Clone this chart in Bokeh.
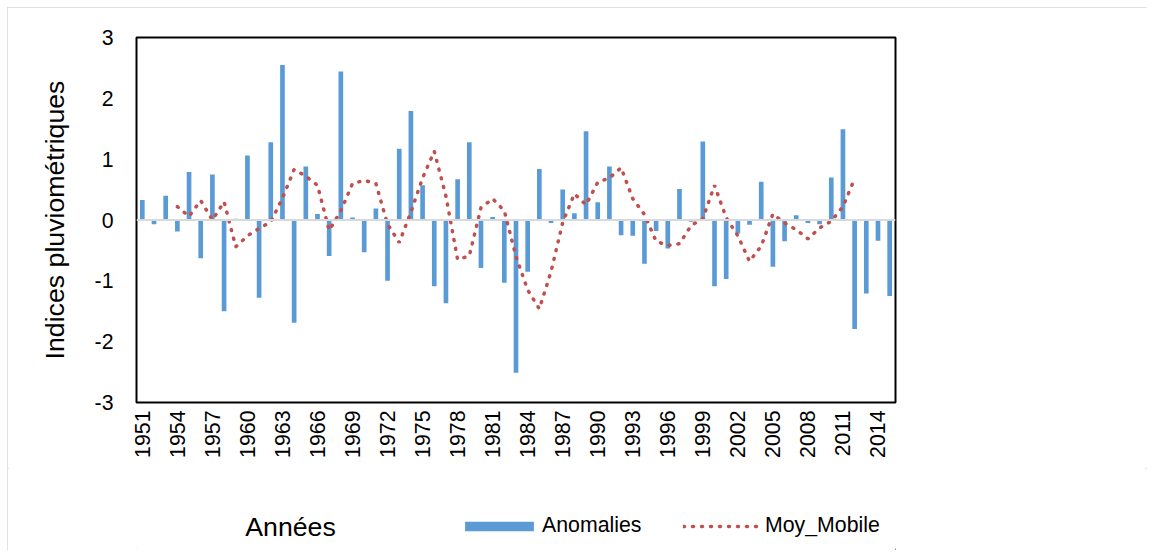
from bokeh.plotting import figure
from bokeh.layouts import column
from bokeh.models import (Range1d, FixedTicker, PrintfTickFormatter, Span,
                          Legend, LegendItem, Label)
from bokeh.embed import file_html
from bokeh.resources import INLINE

# ---- data -------------------------------------------------------------
years = list(range(1951, 2016))
anomalies = [0.33, -0.07, 0.40, -0.19, 0.79, -0.63, 0.75, -1.50, 0.02, 1.06,
             -1.28, 1.28, 2.55, -1.69, 0.88, 0.10, -0.59, 2.44, 0.04, -0.53,
             0.19, -1.00, 1.17, 1.79, 0.57, -1.09, -1.37, 0.67, 1.28, -0.79,
             0.05, -1.03, -2.51, -0.85, 0.84, -0.05, 0.50, 0.11, 1.46, 0.29,
             0.88, -0.25, -0.26, -0.72, -0.18, -0.47, 0.51, -0.03, 1.29, -1.09,
             -0.97, -0.22, -0.08, 0.63, -0.77, -0.35, 0.08, -0.05, -0.07, 0.70,
             1.49, -1.79, -1.21, -0.34, -1.25]
ma_years = list(range(1954, 2013))
moy_mobile = [0.22, 0.06, 0.32, 0.00, 0.30, -0.44, -0.26, -0.14, -0.03, 0.36,
              0.83, 0.72, 0.57, -0.17, 0.15, 0.60, 0.65, 0.60, -0.07, -0.37,
              0.13, 0.69, 1.13, 0.39, -0.65, -0.59, 0.20, 0.35, 0.15, -0.60,
              -1.15, -1.46, -0.85, -0.04, 0.43, 0.25, 0.62, 0.69, 0.86, 0.35,
              0.09, -0.35, -0.42, -0.39, -0.09, 0.02, 0.57, 0.04, -0.26, -0.68,
              -0.43, 0.10, -0.05, -0.16, -0.31, -0.13, -0.02, 0.22, 0.68]
y_ticks = [-3, -2, -1, 0, 1, 2, 3]
x_ticks = list(range(1951, 2015, 3))
series_names = ["Anomalies", "Moy_Mobile"]
x_title = "Années"
y_title = "Indices pluviométriques"

FONT = "Liberation Sans"
BLUE = "#5B9BD5"
RED = "#C0504D"
W = 1140
H_MAIN = 461
H_LEG = 82
FRAME_W = 759


def style_bars(fig, xs, tops):
    return fig.vbar(x=xs, top=tops, bottom=0, width=0.4,
                    fill_color=BLUE, line_color=None)


def style_line(fig, xs, ys):
    return fig.line(xs, ys, line_color=RED, line_width=3.5,
                    line_dash="1 8", line_cap="round")


# ---- main chart -------------------------------------------------------
p = figure(width=W, height=H_MAIN, output_backend="svg", toolbar_location=None,
           x_range=Range1d(1950.5, 2015.5), y_range=Range1d(-3, 3),
           min_border_left=129, min_border_right=W - 129 - FRAME_W,
           min_border_top=30, min_border_bottom=H_MAIN - 30 - 365)

style_bars(p, years, anomalies)
p.add_layout(Span(location=0, dimension="width", line_color="#d9d9d9", line_width=2))
style_line(p, ma_years, moy_mobile)

p.outline_line_color = "black"
p.outline_line_width = 2
p.outline_line_alpha = 1
p.xgrid.visible = False
p.ygrid.visible = False
p.background_fill_color = "white"
p.border_fill_color = "white"

ya = p.yaxis[0]
ya.ticker = FixedTicker(ticks=y_ticks)
ya.formatter = PrintfTickFormatter(format="%d")
ya.axis_line_color = None
ya.major_tick_line_color = None
ya.minor_tick_line_color = None
ya.major_tick_out = 0
ya.major_tick_in = 0
ya.major_label_standoff = 23
ya.major_label_text_font = FONT
ya.major_label_text_font_size = "21.3px"
ya.major_label_text_color = "black"
ya.axis_label = y_title
ya.axis_label_text_font = FONT
ya.axis_label_text_font_style = "normal"
ya.axis_label_text_font_size = "26.7px"
ya.axis_label_text_color = "black"
ya.axis_label_standoff = 22

xa = p.xaxis[0]
xa.ticker = FixedTicker(ticks=x_ticks)
xa.formatter = PrintfTickFormatter(format="%d")
xa.axis_line_color = None
xa.major_tick_line_color = None
xa.minor_tick_line_color = None
xa.major_tick_out = 0
xa.major_tick_in = 0
xa.major_label_standoff = 8
xa.major_label_orientation = 3.14159265 / 2
xa.major_label_text_font = FONT
xa.major_label_text_font_size = "21.3px"
xa.major_label_text_color = "black"

# ---- bottom strip: x title + legend (frame aligned with main frame) ------
q = figure(width=W, height=H_LEG, output_backend="svg", toolbar_location=None,
           x_range=Range1d(0, FRAME_W), y_range=Range1d(0, H_LEG),
           min_border_left=129, min_border_right=W - 129 - FRAME_W,
           min_border_top=0, min_border_bottom=0)
q.axis.visible = False
q.xgrid.visible = False
q.ygrid.visible = False
q.outline_line_color = None
q.background_fill_color = "white"
q.border_fill_color = "white"

# legend proxies: same series, far outside this strip's range (not visible)
lb = style_bars(q, years, anomalies)
ll = style_line(q, ma_years, moy_mobile)

q.add_layout(Label(x=154, y=24, text=x_title, text_align="center",
                   text_baseline="middle", text_font=FONT,
                   text_font_size="26.7px", text_color="black"))

common = dict(orientation="horizontal", padding=0, margin=0, border_line_color=None,
              background_fill_alpha=0, label_text_font=FONT,
              label_text_font_size="21.3px", label_text_color="black")
leg1 = Legend(items=[LegendItem(label=series_names[0], renderers=[lb])],
              location=(320, 12), glyph_width=86, glyph_height=12,
              label_standoff=0, **common)
leg2 = Legend(items=[LegendItem(label=series_names[1], renderers=[ll])],
              location=(547, 12), glyph_width=77, glyph_height=12,
              label_standoff=5, **common)
q.add_layout(leg1)
q.add_layout(leg2)

layout = column(p, q, spacing=0)
layout.styles = {"margin-left": "7px", "margin-top": "7px",
                 "outline": "2px solid #d9d9d9", "outline-offset": "-2px"}

open("out.html", "w").write(file_html(layout, INLINE))
